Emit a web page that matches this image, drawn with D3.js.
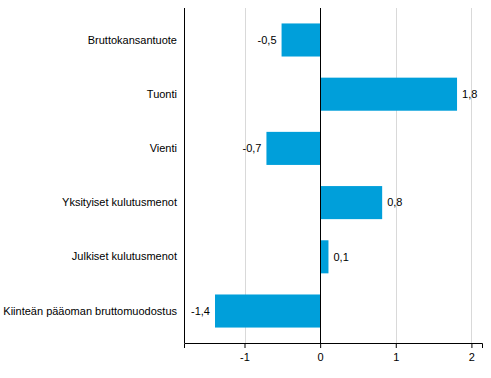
<!DOCTYPE html>
<html>
<head>
<meta charset="utf-8">
<script src="https://cdn.jsdelivr.net/npm/d3@7"></script>
<style>
  body { margin: 0; background: #fff; }
  svg text { font-family: "Liberation Sans", Arial, sans-serif; font-size: 11px; fill: #000; }
</style>
</head>
<body>
<div id="chart"></div>
<script>
// Horizontal bar chart — demand components, percentage-point contributions
const categories = [
  "Bruttokansantuote",
  "Tuonti",
  "Vienti",
  "Yksityiset kulutusmenot",
  "Julkiset kulutusmenot",
  "Kiinteän pääoman bruttomuodostus"
];
const values = [-0.51, 1.81, -0.71, 0.82, 0.11, -1.39];
const labels = ["-0,5", "1,8", "-0,7", "0,8", "0,1", "-1,4"];
const xTicks = [-1, 0, 1, 2];

const width = 491, height = 378;
const margin = {top: 8, right: 9, bottom: 35, left: 184};
const innerW = width - margin.left - margin.right;
const innerH = height - margin.top - margin.bottom;

const svg = d3.select("#chart").append("svg")
  .attr("width", width)
  .attr("height", height);

const g = svg.append("g")
  .attr("transform", `translate(${margin.left},${margin.top})`);

const x = d3.scaleLinear()
  .domain([-1.8, 2.14])
  .range([0, innerW]);

const y = d3.scaleBand()
  .domain(categories)
  .range([0, innerH])
  .paddingInner(0.39)
  .paddingOuter(0.285);

// gridlines
g.selectAll(".grid")
  .data(xTicks.filter(d => d !== 0))
  .join("line")
  .attr("x1", d => Math.round(x(d)) + 0.5)
  .attr("x2", d => Math.round(x(d)) + 0.5)
  .attr("y1", 0)
  .attr("y2", innerH)
  .attr("stroke", "#d9d9d9")
  .attr("stroke-width", 1);

// bars
g.selectAll(".bar")
  .data(values)
  .join("rect")
  .attr("x", d => x(Math.min(0, d)))
  .attr("y", (d, i) => y(categories[i]))
  .attr("width", d => Math.abs(x(d) - x(0)))
  .attr("height", y.bandwidth())
  .attr("fill", "#009fda");

// value labels
g.selectAll(".val")
  .data(values)
  .join("text")
  .attr("x", d => d < 0 ? x(d) - 5 : x(d) + 5)
  .attr("y", (d, i) => y(categories[i]) + y.bandwidth() / 2)
  .attr("dy", "0.35em")
  .attr("text-anchor", d => d < 0 ? "end" : "start")
  .text((d, i) => labels[i]);

// zero line
g.append("line")
  .attr("x1", Math.round(x(0)) + 0.5)
  .attr("x2", Math.round(x(0)) + 0.5)
  .attr("y1", 0)
  .attr("y2", innerH)
  .attr("stroke", "#000");

// left axis with category labels
const yAxis = g.append("g")
  .call(d3.axisLeft(y).tickSize(0).tickPadding(7));
yAxis.select(".domain").remove();
g.append("line")
  .attr("x1", 0.5).attr("x2", 0.5)
  .attr("y1", 0).attr("y2", innerH)
  .attr("stroke", "#000");
yAxis.selectAll("text").style("font-size", "11px").style("font-family", "Liberation Sans, Arial, sans-serif");

// bottom axis
const xAxis = g.append("g")
  .attr("transform", `translate(0,${innerH})`)
  .call(d3.axisBottom(x).tickValues(xTicks).tickSizeOuter(0).tickSize(5).tickPadding(5)
    .tickFormat(d => String(d)));
xAxis.select(".domain").attr("stroke", "#000");
xAxis.selectAll("line").attr("stroke", "#000");
xAxis.selectAll("text").style("font-size", "11px").style("font-family", "Liberation Sans, Arial, sans-serif");
</script>
</body>
</html>
